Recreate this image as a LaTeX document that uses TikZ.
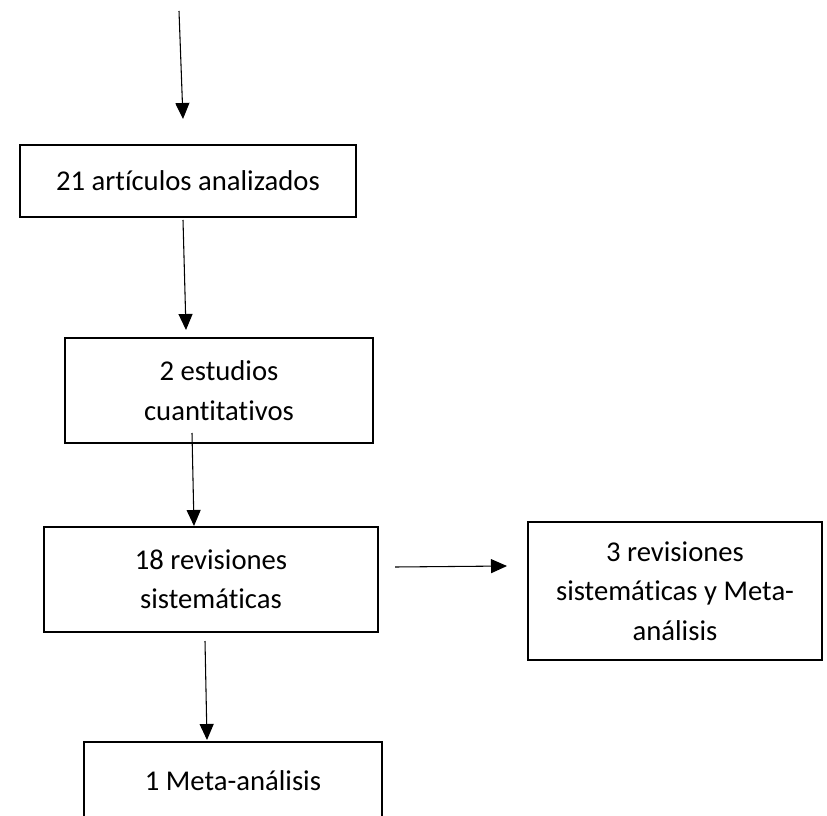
\documentclass[tikz,border=0pt]{standalone}
\usepackage{fontspec}
\setmainfont[Ligatures=NoCommon]{Carlito}
\usetikzlibrary{arrows.meta}
\begin{document}
\begin{tikzpicture}[x=0.75pt,y=-0.75pt,
	box/.style={draw,line width=1.5pt,rectangle,align=center,inner sep=0pt,font=\fontsize{21.5}{29.5}\selectfont},
	arr/.style={line width=0.8pt,-{Triangle[length=12pt,width=10.5pt]}}]
	\useasboundingbox (0,0) rectangle (827,816);
	\node[box,minimum width=252pt,minimum height=54pt] (articulos) at (188,181) {21 artículos analizados};
	\node[box,minimum width=231pt,minimum height=78.75pt] (cuanti) at (219,390.5) {2 estudios\\cuantitativos};
	\node[box,minimum width=250.5pt,minimum height=78.75pt] (revisiones) at (211,579.5) {18 revisiones\\sistemáticas};
	\node[box,minimum width=220.5pt,minimum height=103.5pt] (revmeta) at (675,591) {3 revisiones\\sistemáticas y Meta-\\análisis};
	% la caja de abajo sigue fuera de la hoja
	\node[box,minimum width=223.5pt,minimum height=66pt] (meta) at (233,786) {\raisebox{8pt}{1 Meta-análisis}};
	\coordinate (s0) at (179,11);
	\coordinate (e0) at (183,119);
	\coordinate (s1) at (183,220);
	\coordinate (e1) at (186,330);
	\coordinate (s2) at (192,433);
	\coordinate (s3) at (395,567);
	\coordinate (e3) at (507,566);
	\coordinate (s4) at (205,641);
	\coordinate (e4) at (207,740);
	\draw[arr] (s0) -- (e0);
	\draw[arr] (s1) -- (e1);
	\draw[arr] (s2) -- (revisiones.north -| 194,0);
	\draw[arr] (s3) -- (e3);
	\draw[arr] (s4) -- (e4);
\end{tikzpicture}
\end{document}
